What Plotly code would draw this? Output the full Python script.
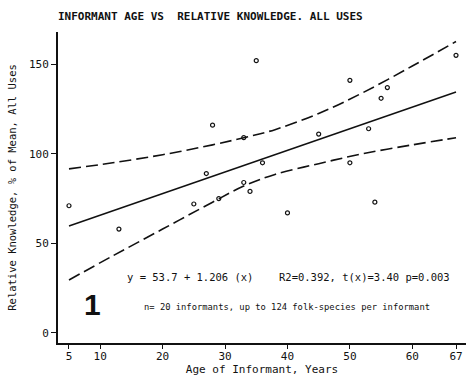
import plotly.graph_objects as go

# Informant ages and relative knowledge scores (% of mean, all uses)
age = [5, 13, 25, 27, 28, 29, 33, 33, 34, 35, 36, 40, 45, 50, 50, 53, 54, 55, 56, 67]
knowledge = [71, 58, 72, 89, 116, 75, 84, 109, 79, 152, 95, 67, 111, 141, 95, 114, 73, 131, 137, 155]

# Fitted regression: y = intercept + slope * x
intercept = 53.7
slope = 1.206
fit_x = [5, 67]

# 95% confidence band around the fit
band_x = [5, 12, 20, 28, 33, 38, 45, 52, 60, 67]
band_upper = [91.6, 95.0, 99.5, 105.0, 109.0, 113.5, 122.5, 134.0, 149.0, 162.7]
band_lower = [29.6, 43.0, 58.0, 73.0, 82.0, 88.5, 94.5, 100.0, 105.0, 109.0]

x_ticks = [5, 10, 20, 30, 40, 50, 60, 67]
y_ticks = [0, 50, 100, 150]

MONO = "DejaVu Sans Mono"
INK = "#111111"

W, H = 466, 378
L, R, T, B = 58, 0, 32, 35
pw, ph = W - L - R, H - T - B

fig = go.Figure()

fig.add_trace(go.Scatter(
    x=band_x, y=band_upper, mode="lines", line_shape="spline",
    line=dict(color=INK, width=1.6, dash="12px,5px"), hoverinfo="skip"))
fig.add_trace(go.Scatter(
    x=band_x, y=band_lower, mode="lines", line_shape="spline",
    line=dict(color=INK, width=1.6, dash="12px,5px"), hoverinfo="skip"))
fig.add_trace(go.Scatter(
    x=fit_x, y=[intercept + slope * v for v in fit_x], mode="lines",
    line=dict(color=INK, width=1.5)))
fig.add_trace(go.Scatter(
    x=age, y=knowledge, mode="markers",
    marker=dict(symbol="circle-open", size=4, color=INK, line=dict(width=1.2, color=INK))))

# Statistics notes placed in pixel terms relative to the plot area
annots = [
    dict(text="y = 53.7 + 1.206 (x)", px=125, py=277, size=10.5),
    dict(text="R2=0.392, t(x)=3.40 p=0.003", px=277, py=277, size=10.5),
    dict(text="n= 20 informants, up to 124 folk-species per informant", px=142, py=307, size=8.8),
]
for a in annots:
    fig.add_annotation(
        x=(a["px"] - L) / pw, y=1 - (a["py"] - T) / ph, xref="paper", yref="paper",
        text=a["text"], showarrow=False, xanchor="left", yanchor="middle",
        font=dict(family=MONO, size=a["size"], color=INK))
fig.add_annotation(
    x=(92 - L) / pw, y=1 - (304 - T) / ph, xref="paper", yref="paper",
    text="<b>1</b>", showarrow=False, xanchor="center", yanchor="middle",
    font=dict(family="Liberation Sans Narrow, Liberation Sans", size=30, color=INK))

fig.update_layout(
    width=W, height=H,
    margin=dict(l=L, r=R, t=T, b=B),
    paper_bgcolor="white", plot_bgcolor="white",
    showlegend=False,
    title=dict(text="<b>INFORMANT AGE VS  RELATIVE KNOWLEDGE. ALL USES</b>",
               x=58 / W, xanchor="left", y=1 - 16 / H, yanchor="middle",
               font=dict(family=MONO, size=11, color=INK)),
    xaxis=dict(range=[3.24, 68.6], tickvals=x_ticks, ticks="outside", ticklen=4,
               tickcolor=INK, showline=True, linecolor=INK, linewidth=2,
               showgrid=False, zeroline=False, ticklabelstandoff=-2,
               tickfont=dict(family=MONO, size=11, color=INK),
               title=dict(text="Age of Informant, Years", standoff=0,
                          font=dict(family=MONO, size=11, color=INK))),
    yaxis=dict(range=[-5.6, 168], tickvals=y_ticks, ticks="outside", ticklen=5,
               tickcolor=INK, showline=True, linecolor=INK, linewidth=2,
               showgrid=False, zeroline=False,
               tickfont=dict(family=MONO, size=11, color=INK),
               title=dict(text="Relative Knowledge, % of Mean, All Uses", standoff=10,
                          font=dict(family=MONO, size=10.5, color=INK))),
)

fig.write_html("out.html")
